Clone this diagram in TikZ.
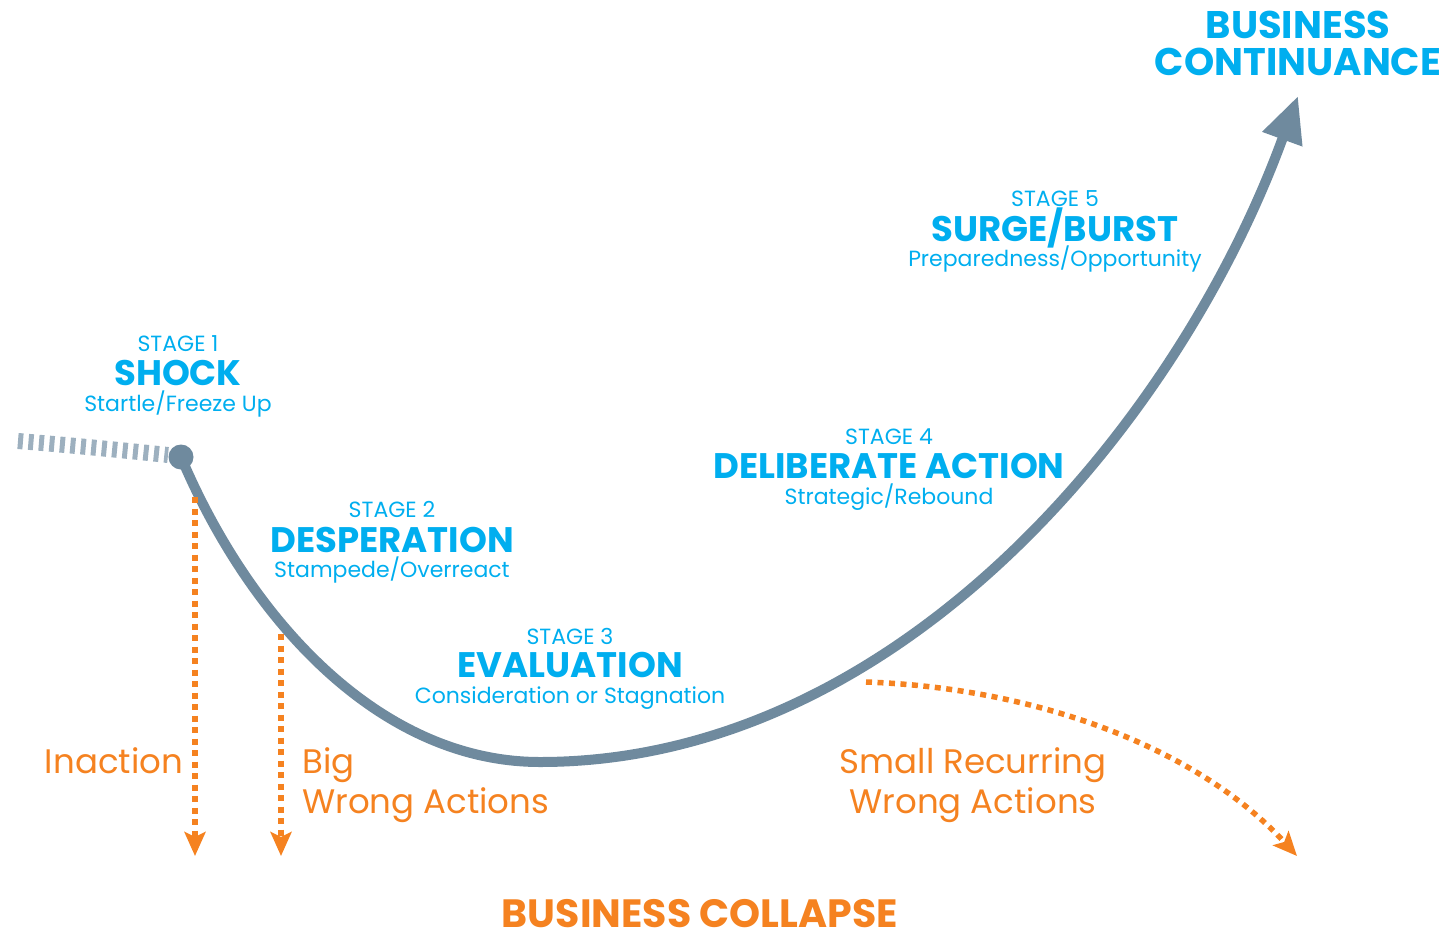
\documentclass[tikz,border=0pt]{standalone}
\usepackage{fontspec}
\setmainfont{Poppins}
\usetikzlibrary{arrows.meta}
\definecolor{cblue}{HTML}{00AEEF}
\definecolor{corange}{HTML}{F58220}
\definecolor{cgray}{HTML}{6F8A9E}
\definecolor{clight}{HTML}{9DB0BF}
\tikzset{
  stsmall/.style={text=cblue, inner sep=0pt, anchor=base, font=\fontsize{22}{26}\selectfont},
  stbig/.style={text=cblue, inner sep=0pt, anchor=base, font=\fontsize{35.5}{40}\bfseries\selectfont},
  orlabel/.style={text=corange, inner sep=0pt, anchor=base, font=\fontsize{34}{40}\selectfont},
  title/.style={inner sep=0pt, anchor=base, font=\fontsize{38.5}{44}\bfseries\selectfont},
  curve/.style={draw=cgray, line width=10pt, line cap=round},
  fail/.style={draw=corange, line width=5.5pt, dash pattern=on 6pt off 5.5pt,
    -{Stealth[length=24pt,width=21pt,inset=5pt]}},
}
\begin{document}
\begin{tikzpicture}[x=1pt,y=-1pt]
\useasboundingbox (0,0) rectangle (1446,932);
% start
\draw[clight, line width=16pt, dash pattern=on 5pt off 5.5pt] (18,441) .. controls (80,446) and (130,451) .. (168,455);
\node[circle, fill=cgray, minimum size=25pt, inner sep=0pt] (start) at (181,457) {};
\coordinate (top) at (1298,96);
\draw[curve, -{Triangle[length=46pt,width=40pt]}] (start.center) .. controls (250,620) and (380,762) .. (540,762)
  coordinate (low) .. controls (900,762) and (1180,420) .. (top);
% failure branches
\coordinate (f1) at (195,497);
\coordinate (f1e) at (195,856);
\coordinate (f2) at (281,634);
\coordinate (f2e) at (281,856);
\coordinate (f3) at (866,682);
\coordinate (f3e) at (1297,856);
\draw[fail] (f1) -- (f1e);
\draw[fail] (f2) -- (f2e);
\draw[fail] (f3) .. controls (1040,688) and (1200,750) .. (f3e);
% labels
\node[title, text=cblue] (bc1) at (1298,38) {BUSINESS};
\node[title, text=cblue] (bc2) at (1298,75) {CONTINUANCE};
\node[stsmall] (s5a) at (1055,206) {STAGE 5};
\node[stbig] (s5b) at (1055,241) {SURGE/BURST};
\node[stsmall] (s5c) at (1055,266) {Preparedness/Opportunity};
\node[stsmall] (s1a) at (178,351) {STAGE 1};
\node[stbig] (s1b) at (178,385) {SHOCK};
\node[stsmall] (s1c) at (178,411) {Startle/Freeze Up};
\node[stsmall] (s4a) at (889,444) {STAGE 4};
\node[stbig] (s4b) at (889,478) {DELIBERATE ACTION};
\node[stsmall] (s4c) at (889,504) {Strategic/Rebound};
\node[stsmall] (s2a) at (392,517) {STAGE 2};
\node[stbig] (s2b) at (392,552) {DESPERATION};
\node[stsmall] (s2c) at (392,577) {Stampede/Overreact};
\node[stsmall] (s3a) at (570,644) {STAGE 3};
\node[stbig] (s3b) at (570,677) {EVALUATION};
\node[stsmall] (s3c) at (570,703) {Consideration or Stagnation};
\node[orlabel] (inac) at (114,773) {Inaction};
\node[orlabel, anchor=base west] (big1) at (302,773) {Big};
\node[orlabel, anchor=base west] (big2) at (302,813) {Wrong Actions};
\node[orlabel] (sm1) at (973,773) {Small Recurring};
\node[orlabel] (sm2) at (973,813) {Wrong Actions};
\node[inner sep=0pt, anchor=base, text=corange, font=\fontsize{39.5}{44}\bfseries\selectfont] (col) at (700,927) {BUSINESS COLLAPSE};
\end{tikzpicture}
\end{document}
